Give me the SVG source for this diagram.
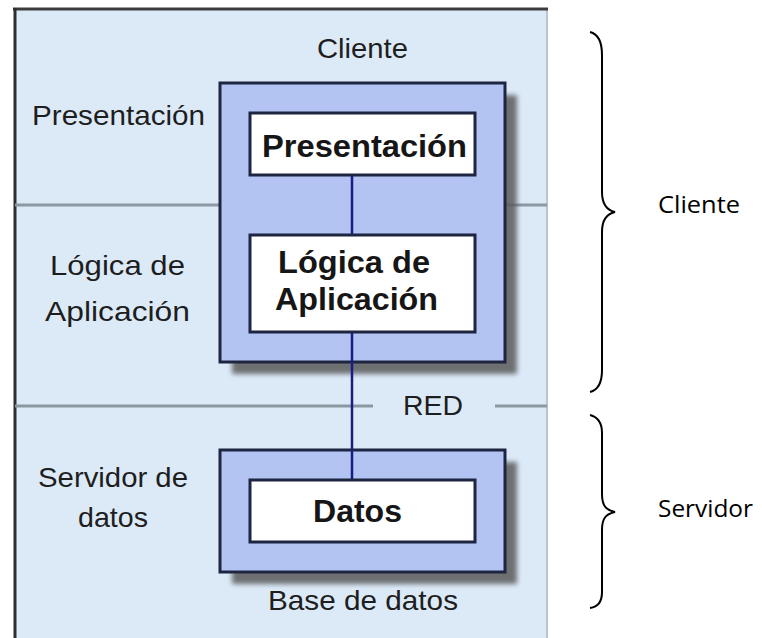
<svg xmlns="http://www.w3.org/2000/svg" width="762" height="638" viewBox="0 0 762 638">
<defs>
<filter id="shadow" x="-10%" y="-10%" width="130%" height="130%">
<feGaussianBlur stdDeviation="2.5"/>
</filter>
</defs>
<style>
.lbl{font-family:"Liberation Sans",Arial,sans-serif;font-size:28px;fill:#1e1e1e;}
.bold{font-family:"Liberation Sans",Arial,sans-serif;font-size:32px;font-weight:bold;fill:#161616;}
.side{font-family:"Open Sans","Noto Sans",sans-serif;font-size:24px;fill:#000;}
.outer{fill:#b3c4f2;stroke:#1d2540;stroke-width:3;}
.inner{fill:#ffffff;stroke:#1d2540;stroke-width:3;}
.shadow{fill:#5a5a5a;opacity:0.85;filter:url(#shadow);}
.divider{stroke:#8c98a2;stroke-width:3;}
.brace{fill:none;stroke:#000;stroke-width:2;}
.conn{stroke:#1a1a88;stroke-width:2.5;}
</style>
<rect x="0" y="0" width="762" height="638" fill="#ffffff"/>
<g id="panel">
<rect x="14" y="8" width="534" height="632" fill="#dceaf8"/>
<line x1="547" y1="8" x2="547" y2="638" stroke="#b9c5cf" stroke-width="2"/>
<line x1="13" y1="9" x2="548" y2="9" stroke="#3c3c3c" stroke-width="3"/>
<line x1="15" y1="8" x2="15" y2="638" stroke="#2e2e2e" stroke-width="3"/>
<line class="divider" x1="15" y1="205" x2="547" y2="205"/>
<line class="divider" x1="15" y1="406" x2="373" y2="406"/>
<line class="divider" x1="495" y1="406" x2="547" y2="406"/>
<text class="lbl" x="317" y="58" textLength="91" lengthAdjust="spacingAndGlyphs">Cliente</text>
<text class="lbl" x="32" y="125" textLength="173" lengthAdjust="spacingAndGlyphs">Presentación</text>
<text class="lbl" x="50" y="275" textLength="135" lengthAdjust="spacingAndGlyphs">Lógica de</text>
<text class="lbl" x="45" y="321" textLength="145" lengthAdjust="spacingAndGlyphs">Aplicación</text>
<text class="lbl" x="403" y="415" textLength="60" lengthAdjust="spacingAndGlyphs">RED</text>
<text class="lbl" x="38" y="487" textLength="150" lengthAdjust="spacingAndGlyphs">Servidor de</text>
<text class="lbl" x="78" y="527" textLength="70" lengthAdjust="spacingAndGlyphs">datos</text>
<text class="lbl" x="268" y="610" textLength="190" lengthAdjust="spacingAndGlyphs">Base de datos</text>
</g>
<g id="cliente-box">
<rect class="shadow" x="232" y="95" width="285" height="279"/>
<rect class="outer" x="220" y="83" width="285" height="279"/>
</g>
<g id="servidor-box">
<rect class="shadow" x="232" y="462" width="285" height="122"/>
<rect class="outer" x="220" y="450" width="285" height="122"/>
</g>
<g id="connectors">
<line class="conn" x1="352" y1="175" x2="352" y2="235"/>
<line class="conn" x1="352" y1="332" x2="352" y2="480"/>
</g>
<g id="presentacion">
<rect class="inner" x="250" y="113" width="225" height="62"/>
<text class="bold" x="262" y="157" textLength="205" lengthAdjust="spacingAndGlyphs">Presentación</text>
</g>
<g id="logica">
<rect class="inner" x="250" y="235" width="225" height="97"/>
<text class="bold" x="278" y="273" textLength="152" lengthAdjust="spacingAndGlyphs">Lógica de</text>
<text class="bold" x="275" y="310" textLength="163" lengthAdjust="spacingAndGlyphs">Aplicación</text>
</g>
<g id="datos">
<rect class="inner" x="250" y="480" width="225" height="62"/>
<text class="bold" x="313" y="522" textLength="89" lengthAdjust="spacingAndGlyphs">Datos</text>
</g>
<g id="brace-cliente">
<path class="brace" d="M590,32 C598,34 602,42 602,55 L602,192 C602,204 606,210 615,212 C606,214 602,220 602,232 L602,370 C602,383 598,390 590,392"/>
<text class="side" x="658" y="213" textLength="82" lengthAdjust="spacingAndGlyphs">Cliente</text>
</g>
<g id="brace-servidor">
<path class="brace" d="M590,415 C598,417 602,423 602,433 L602,494 C602,506 606,510 615,512 C606,514 602,518 602,530 L602,592 C602,602 598,607 590,608"/>
<text class="side" x="658" y="517" textLength="95" lengthAdjust="spacingAndGlyphs">Servidor</text>
</g>
</svg>
